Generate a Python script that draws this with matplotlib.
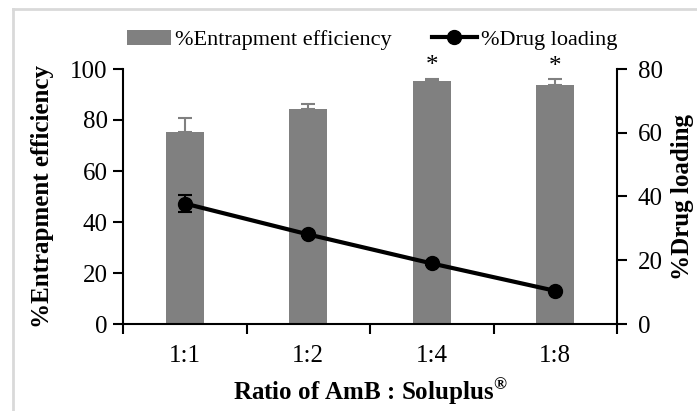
import matplotlib
matplotlib.use("Agg")
import matplotlib.pyplot as plt
from matplotlib.lines import Line2D
import numpy as np

plt.rcParams['font.family'] = ['Liberation Serif', 'DejaVu Serif']
plt.rcParams['mathtext.fontset'] = 'custom'
plt.rcParams['mathtext.rm'] = 'Liberation Serif'
plt.rcParams['mathtext.bf'] = 'Liberation Serif:bold'

ratios = ['1:1', '1:2', '1:4', '1:8']
ee = [75.4, 84.3, 95.2, 93.7]        # %entrapment efficiency
ee_err = [5.3, 1.9, 1.0, 2.2]
dl = [37.8, 28.1, 19.0, 10.4]        # %drug loading
dl_err = [2.6, 0.6, 0.4, 0.4]
sig = [False, False, True, True]     # asterisks

fig = plt.figure(figsize=(6.97, 4.11), dpi=100)
ax = fig.add_axes([123/697, 1-324/411, (617-123)/697, (324-69)/411])
ax2 = ax.twinx()

x = np.arange(len(ratios))
ax.bar(x, ee, width=0.31, color='#808080', label='%Entrapment efficiency', zorder=2)
ax.errorbar(x, ee, yerr=[np.zeros(len(ee)), ee_err], fmt='none', ecolor='#808080',
            elinewidth=1.5, capsize=5, capthick=1.5, zorder=2)
for xi, v, e, s in zip(x, ee, ee_err, sig):
    if s:
        ax.text(xi, v + e + 0.5, '*', ha='center', va='bottom', fontsize=18)

ax2.errorbar(x, dl, yerr=dl_err, fmt='none', ecolor='black', elinewidth=1.5,
             capsize=5, capthick=1.5, zorder=3)
ax2.plot(x, dl, color='black', lw=3, marker='o', ms=10, label='%Drug loading', zorder=3)

ax.set_xlim(-0.5, 3.5)
ax.set_ylim(0, 100)
ax2.set_ylim(0, 80)
ax.set_yticks([0, 20, 40, 60, 80, 100])
ax2.set_yticks([0, 20, 40, 60, 80])
ax.set_xticks(x)
ax.set_xticklabels(ratios)
ax.set_xticks(np.arange(-0.5, 4, 1), minor=True)
ax.tick_params(axis='x', which='major', length=0, labelsize=18, pad=15)
ax.tick_params(axis='x', which='minor', length=7, width=1.5, direction='out')
ax.tick_params(axis='y', labelsize=18, length=7, width=1.5, direction='out', pad=4)
ax2.tick_params(axis='y', labelsize=18, length=7, width=1.5, direction='out', pad=8)

for a in (ax, ax2):
    a.spines['top'].set_visible(False)
    for sp in ('left', 'right', 'bottom'):
        a.spines[sp].set_linewidth(1.5)
ax.spines['right'].set_visible(False)
ax2.spines['left'].set_visible(False)
ax2.spines['bottom'].set_visible(False)

ax.set_ylabel('%Entrapment efficiency', fontsize=18, fontweight='bold', labelpad=12)
ax2.set_ylabel('%Drug loading', fontsize=18, fontweight='bold', labelpad=6)
ax.set_xlabel('Ratio of AmB : Soluplus$^{\\mathbf{®}}$', fontsize=18, fontweight='bold', labelpad=6)

h1, l1 = ax.get_legend_handles_labels()
h2, l2 = ax2.get_legend_handles_labels()
fig.legend(h1 + h2, l1 + l2, loc='center', bbox_to_anchor=(372/697, 1-40/411), ncol=2,
           frameon=False, fontsize=16, handlelength=2.0, columnspacing=1.8, handletextpad=0.2)

# light grey frame at the top and left of the picture
fig.add_artist(Line2D([13/697, 13/697], [0, 1-9/411], color='#d9d9d9', lw=2, transform=fig.transFigure))
fig.add_artist(Line2D([13/697, 1], [1-9/411, 1-9/411], color='#d9d9d9', lw=2, transform=fig.transFigure))

fig.savefig('out.png', dpi=100)
